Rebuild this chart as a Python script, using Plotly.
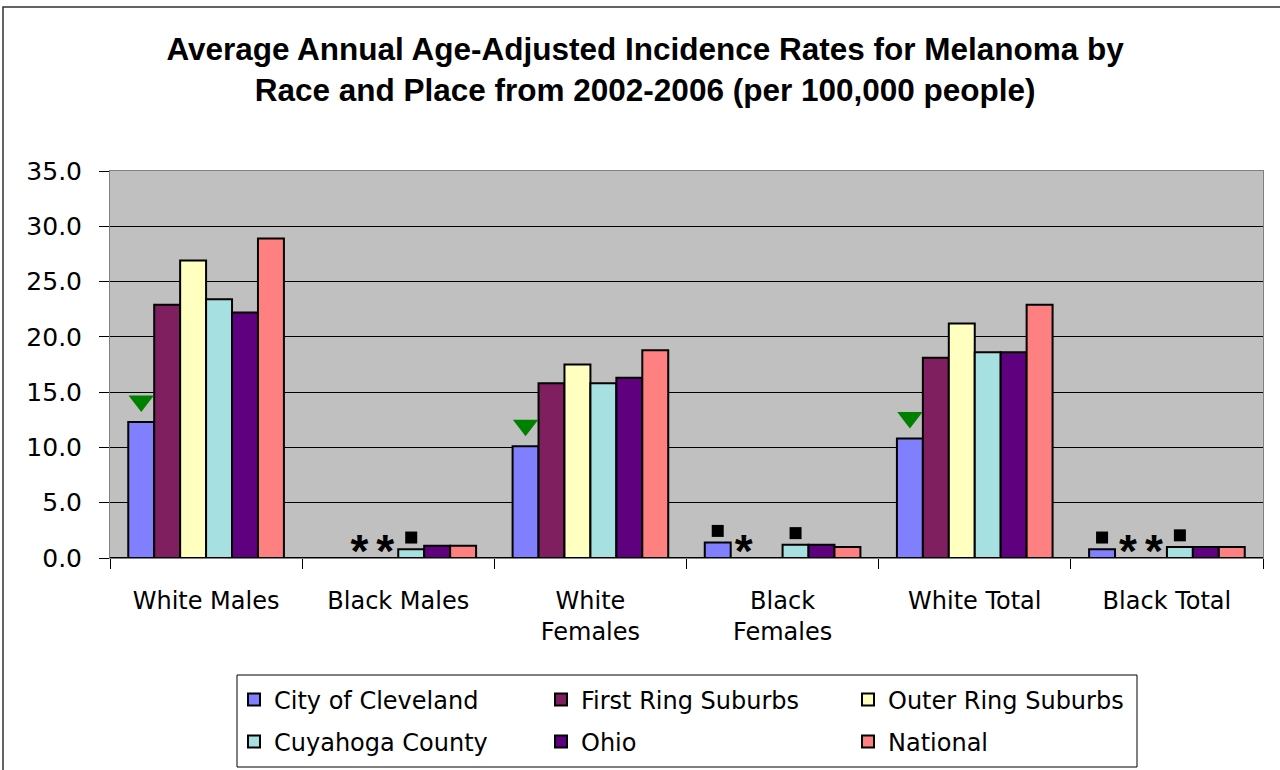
import plotly.graph_objects as go

# ---------------- data ----------------
categories = ["White Males", "Black Males", "White<br>Females", "Black<br>Females",
              "White Total", "Black Total"]
series_names = ["City of Cleveland", "First Ring Suburbs", "Outer Ring Suburbs",
                "Cuyahoga County", "Ohio", "National"]
city_of_cleveland = [12.3, None, 10.1, 1.4, 10.8, 0.8]
first_ring_suburbs = [22.9, None, 15.8, None, 18.1, None]
outer_ring_suburbs = [26.9, None, 17.5, None, 21.2, None]
cuyahoga_county = [23.4, 0.8, 15.8, 1.2, 18.6, 1.0]
ohio = [22.2, 1.1, 16.3, 1.2, 18.6, 1.0]
national = [28.9, 1.1, 18.8, 1.0, 22.9, 1.0]
y_ticks = [0, 5, 10, 15, 20, 25, 30, 35]

# flags as (category index, series index)
lower_flags = [(0, 0), (2, 0), (4, 0)]                       # green triangle
square_flags = [(1, 3), (3, 0), (3, 3), (5, 0), (5, 3)]      # black square
suppressed_flags = [(1, 1), (1, 2), (3, 1), (5, 1), (5, 2)]  # asterisk

# ---------------- style ----------------
colors = ["#8080FF", "#7F1F5F", "#FFFFC0", "#A6E0E0", "#5F007F", "#FF8080"]
BARGAP = 0.19
FONT = "DejaVu Sans"
TRI_OFFSET = 1.9
SQ_OFFSET = 1.05
AST_Y = 0.2

# plot-area pixel geometry (for paper-coordinate helpers)
L, R, T, B = 110, 1263, 171, 558
PW, PH = R - L, B - T


def px_x(px):
    return (px - L) / PW


def px_y(py):
    return (B - py) / PH


all_series = [city_of_cleveland, first_ring_suburbs, outer_ring_suburbs,
              cuyahoga_county, ohio, national]
n = len(all_series)
w = (1 - BARGAP) / n
xcat = list(range(len(categories)))

fig = go.Figure()
for i, (name, vals, col) in enumerate(zip(series_names, all_series, colors)):
    fig.add_trace(go.Bar(x=xcat, y=vals, name=name,
                         legend="legend" if i < 3 else "legend2",
                         marker=dict(color=col, line=dict(color="black", width=2))))


def slot_x(ci, si):
    return ci + (si - (n - 1) / 2) * w


fig.add_trace(go.Scatter(
    x=[slot_x(c, s) for c, s in lower_flags],
    y=[all_series[s][c] + TRI_OFFSET for c, s in lower_flags],
    mode="markers", showlegend=False, cliponaxis=False, hoverinfo="skip",
    marker=dict(symbol="triangle-down", size=22, color="#008000")))
fig.add_trace(go.Scatter(
    x=[slot_x(c, s) for c, s in square_flags],
    y=[all_series[s][c] + SQ_OFFSET for c, s in square_flags],
    mode="markers", showlegend=False, cliponaxis=False, hoverinfo="skip",
    marker=dict(symbol="square", size=12, color="black")))
fig.add_trace(go.Scatter(
    x=[slot_x(c, s) for c, s in suppressed_flags],
    y=[AST_Y for _ in suppressed_flags],
    mode="text", text=["*"] * len(suppressed_flags), textposition="middle center",
    showlegend=False, cliponaxis=False, hoverinfo="skip",
    textfont=dict(family="Liberation Sans", size=46, color="black", weight="bold")))

leg_common = dict(orientation="h", xanchor="left", yanchor="middle",
                  bgcolor="rgba(0,0,0,0)", borderwidth=0, entrywidth=262,
                  itemwidth=30, font=dict(family=FONT, size=24), traceorder="normal")

fig.update_layout(
    width=1280, height=770,
    margin=dict(l=L, r=1280 - R, t=T, b=770 - B, autoexpand=False),
    paper_bgcolor="white", plot_bgcolor="#C0C0C0",
    barmode="group", bargap=BARGAP, bargroupgap=0,
    font=dict(family=FONT, size=24, color="black"),
    title=dict(text="Average Annual Age-Adjusted Incidence Rates for Melanoma by<br>"
                    "Race and Place from 2002-2006 (per 100,000 people)",
               x=0.504, xanchor="center", y=1 - 60 / 770, yanchor="middle",
               font=dict(family="Liberation Sans", size=31.5, color="black", weight="bold")),
    legend=dict(x=px_x(234), y=px_y(700), **leg_common),
    legend2=dict(x=px_x(234), y=px_y(742), **leg_common),
    showlegend=True,
)
fig.update_xaxes(range=[-0.5, 5.5], tickmode="array", tickvals=xcat, ticktext=categories,
                 ticks="outside", ticklen=21, tickcolor="rgba(0,0,0,0)",
                 minor=dict(tickmode="linear", tick0=0.5, dtick=1, ticks="outside",
                            ticklen=10, tickcolor="black", tickwidth=1),
                 showline=True, linecolor="#808080", linewidth=1, mirror=True,
                 showgrid=False, zeroline=False, fixedrange=True)
fig.update_yaxes(range=[0, 35], tickmode="array", tickvals=y_ticks, tickformat=".1f",
                 ticks="outside", ticklen=10, tickcolor="black", ticklabelstandoff=12,
                 tickfont=dict(size=25),
                 showgrid=True, gridcolor="black", gridwidth=1,
                 zeroline=True, zerolinecolor="black", zerolinewidth=1.5,
                 showline=True, linecolor="#808080", linewidth=1, mirror=True,
                 fixedrange=True)

# outer chart frame
fig.add_shape(type="rect", xref="paper", yref="paper",
              x0=px_x(3), x1=px_x(1300), y0=px_y(800), y1=px_y(7),
              line=dict(color="#303030", width=1.5), fillcolor="rgba(0,0,0,0)", layer="below")
# legend frame
fig.add_shape(type="rect", xref="paper", yref="paper",
              x0=px_x(237), x1=px_x(1137), y0=px_y(767), y1=px_y(675),
              line=dict(color="black", width=1), fillcolor="white", layer="below")

fig.write_html("out.html")
